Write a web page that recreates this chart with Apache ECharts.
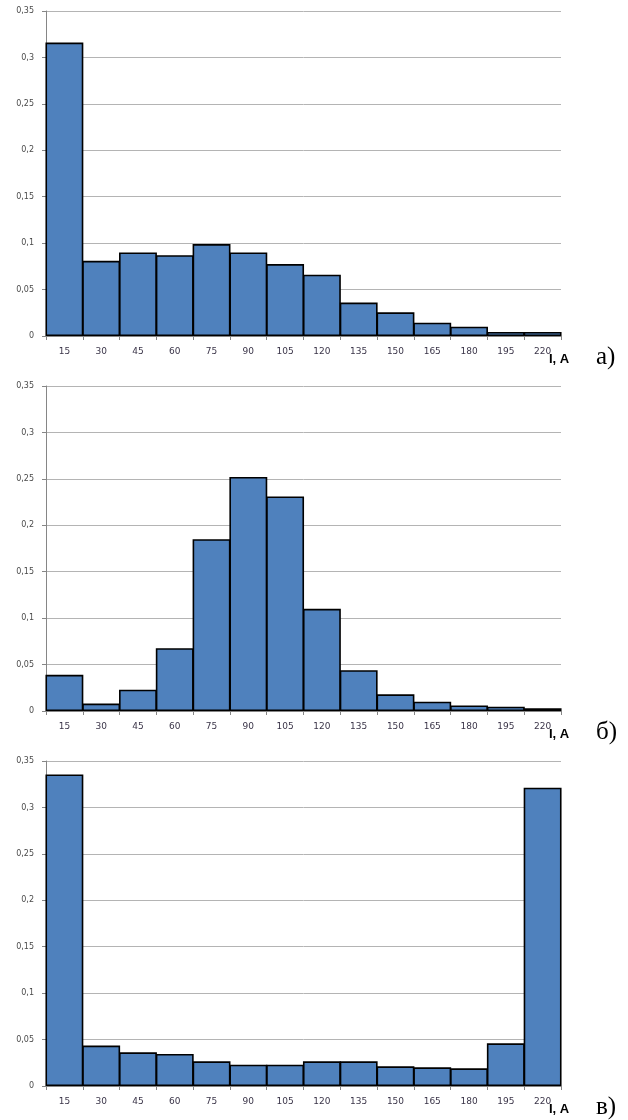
<!DOCTYPE html>
<html>
<head>
<meta charset="utf-8">
<script src="https://cdn.jsdelivr.net/npm/echarts@6/dist/echarts.min.js"></script>
<style>
  html, body { margin: 0; padding: 0; background: #fff; }
  #chart { width: 628px; height: 1120px; }
</style>
</head>
<body>
<div id="chart"></div>
<script>
// категории тока, А
var currents = ["15", "30", "45", "60", "75", "90", "105", "120", "135", "150", "165", "180", "195", "220"];
// относительные частоты, а)
var shareA = [0.316, 0.081, 0.090, 0.087, 0.099, 0.090, 0.0775, 0.066, 0.036, 0.0255, 0.0144, 0.010, 0.0043, 0.0043];
// б)
var shareB = [0.039, 0.008, 0.023, 0.0676, 0.185, 0.252, 0.231, 0.110, 0.044, 0.018, 0.010, 0.006, 0.0047, 0.0029];
// в)
var shareC = [0.3355, 0.0435, 0.0363, 0.0345, 0.0266, 0.023, 0.023, 0.0266, 0.0266, 0.0212, 0.0201, 0.019, 0.046, 0.3212];
var panelTags = ["а)", "б)", "в)"];
var yMax = 0.35;
var yStep = 0.05;

var panelTops = [11, 386, 761];
var panelHeight = 325;

var myChart = echarts.init(document.getElementById("chart"));

var grids = [], xAxes = [], yAxes = [], series = [], texts = [];
[shareA, shareB, shareC].forEach(function (vals, i) {
  grids.push({ left: 46, right: 67, top: panelTops[i], height: panelHeight });
  xAxes.push({
    type: "category",
    gridIndex: i,
    data: currents,
    boundaryGap: true,
    axisLine: { show: true, lineStyle: { color: "#868686", width: 1 } },
    axisTick: { show: true, alignWithLabel: false, length: 4, lineStyle: { color: "#868686" } },
    axisLabel: { color: "#3a3448", fontFamily: "DejaVu Sans", fontSize: 9, margin: 11, interval: 0 },
    splitLine: { show: false }
  });
  yAxes.push({
    type: "value",
    gridIndex: i,
    min: 0,
    max: yMax,
    interval: yStep,
    axisLine: { show: true, lineStyle: { color: "#868686", width: 1 } },
    axisTick: { show: true, length: 4, lineStyle: { color: "#868686" } },
    axisLabel: {
      color: "#4a4a4a",
      fontFamily: "DejaVu Sans",
      fontSize: 8,
      margin: 12,
      formatter: function (v) { return String(+v.toFixed(2)).replace(".", ","); }
    },
    splitLine: { show: true, lineStyle: { color: "#b4b4b4", width: 1 } }
  });
  series.push({
    type: "bar",
    xAxisIndex: i,
    yAxisIndex: i,
    data: vals,
    barWidth: "103%",
    itemStyle: { color: "#4f81bd", borderColor: "#000", borderWidth: 1.6 },
    silent: true
  });
  var axisY = panelTops[i] + panelHeight;
  texts.push({
    type: "text",
    left: 549,
    top: axisY + 17,
    style: { text: "I, A", font: "bold 13px 'Liberation Sans'", fill: "#000" }
  });
  texts.push({
    type: "text",
    left: 596,
    top: axisY + 9,
    style: { text: panelTags[i], font: "25px 'Liberation Serif'", fill: "#000" }
  });
});

var option = {
  animation: false,
  grid: grids,
  xAxis: xAxes,
  yAxis: yAxes,
  series: series,
  graphic: texts
};
myChart.setOption(option);
</script>
</body>
</html>
